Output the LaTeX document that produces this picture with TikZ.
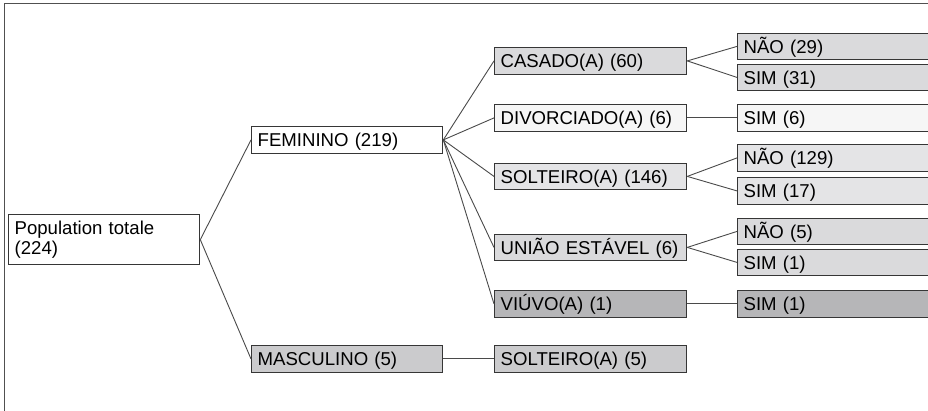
\documentclass[tikz,border=0pt]{standalone}
\usepackage{fontspec}
\setmainfont{Liberation Sans}
\definecolor{boxline}{HTML}{363636}
\definecolor{connline}{HTML}{4A4A4A}
\definecolor{framecol}{HTML}{505050}
\definecolor{fillwhite}{HTML}{FFFFFF}
\definecolor{fillpale}{HTML}{F6F6F6}
\definecolor{filllight}{HTML}{E4E4E6}
\definecolor{fillmid}{HTML}{DADADC}
\definecolor{fillgray}{HTML}{CBCBCD}
\definecolor{filldark}{HTML}{B6B6B8}
\begin{document}
\begin{tikzpicture}[x=1pt,y=-1pt,
  box/.style={draw=boxline, line width=1.3pt, rectangle, anchor=north west,
    inner xsep=6pt, inner ysep=0pt, minimum height=26.5pt,
    text height=13.3pt, text depth=0pt, align=left,
    font=\fontsize{18.6}{21}\selectfont},
  colA/.style={text width=179pt},
  colB/.style={text width=180pt},
  colC/.style={text width=182pt},
  conn/.style={draw=connline, line width=0.9pt}]
\useasboundingbox (0,0) rectangle (928,410);
\clip (0,0) rectangle (928,410);
% outer frame (only its top and left edges fall inside the page)
\draw[framecol, line width=1.5pt] (4.5,412) -- (4.5,3.5) -- (932,3.5);

% root
\node[draw=boxline, line width=1.3pt, rectangle, anchor=north west,
  inner xsep=6pt, inner ysep=0pt, minimum height=50pt, text width=179pt,
  align=left, fill=fillwhite, font=\fontsize{18.6}{19.5}\selectfont]
  (root) at (8,214) {Population totale\\(224)};

% sex
\node[box, colA, fill=fillwhite] (fem) at (251,126) {FEMININO (219)};
\node[box, colA, fill=fillgray] (masc) at (251,345) {MASCULINO (5)};

% marital status
\node[box, colB, fill=fillmid]   (casado) at (494,47)    {CASADO(A) (60)};
\node[box, colB, fill=fillpale]  (divorc) at (494,104)   {DIVORCIADO(A) (6)};
\node[box, colB, fill=filllight] (solt)   at (494,162.5) {SOLTEIRO(A) (146)};
\node[box, colB, fill=fillmid]   (uniao)  at (494,233.5) {UNIÃO ESTÁVEL (6)};
\node[box, colB, fill=filldark]  (viuvo)  at (494,290)   {VIÚVO(A) (1)};
\node[box, colB, fill=fillgray]  (soltm)  at (494,345)   {SOLTEIRO(A) (5)};

% answers
\node[box, colC, fill=fillmid]   (casN) at (737,32.5)  {NÃO (29)};
\node[box, colC, fill=fillmid]   (casS) at (737,63.5)  {SIM (31)};
\node[box, colC, fill=fillpale]  (divS) at (737,104)   {SIM (6)};
\node[box, colC, fill=filllight] (solN) at (737,144)   {NÃO (129)};
\node[box, colC, fill=filllight] (solS) at (737,177)   {SIM (17)};
\node[box, colC, fill=fillmid]   (uniN) at (737,217.5) {NÃO (5)};
\node[box, colC, fill=fillmid]   (uniS) at (737,248.5) {SIM (1)};
\node[box, colC, fill=filldark]  (viuS) at (737,290)   {SIM (1)};

% connectors
\draw[conn] (root.east) -- (fem.west);
\draw[conn] (root.east) -- (masc.west);
\foreach \c in {casado,divorc,solt,uniao,viuvo}
  \draw[conn] (fem.east) -- (\c.west);
\draw[conn] (masc.east) -- (soltm.west);
\draw[conn] (casado.east) -- (casN.west);
\draw[conn] (casado.east) -- (casS.west);
\draw[conn] (divorc.east) -- (divS.west);
\draw[conn] (solt.east) -- (solN.west);
\draw[conn] (solt.east) -- (solS.west);
\draw[conn] (uniao.east) -- (uniN.west);
\draw[conn] (uniao.east) -- (uniS.west);
\draw[conn] (viuvo.east) -- (viuS.west);
\end{tikzpicture}
\end{document}
